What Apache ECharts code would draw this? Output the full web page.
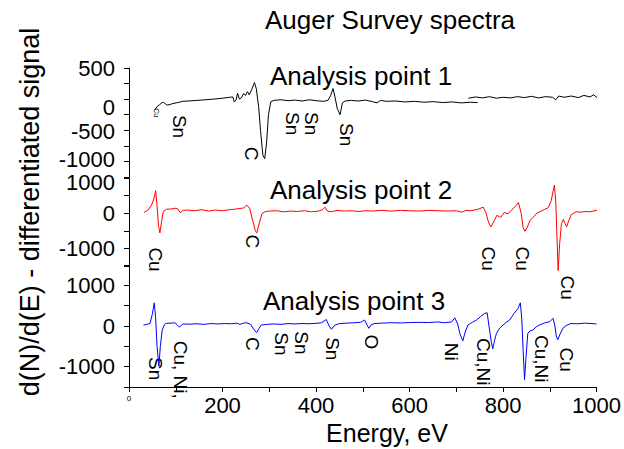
<!DOCTYPE html>
<html>
<head>
<meta charset="utf-8">
<script src="https://cdn.jsdelivr.net/npm/echarts@6/dist/echarts.min.js"></script>
<style>html,body{margin:0;padding:0;background:#fff}#c{width:624px;height:449px}</style>
</head>
<body>
<div id="c"></div>
<script>
// ---- data ----
const point1 = [
[55,-170],[60,-120],[65,-90],[70,-60],[74,-50],[78,-80],[82,-95],[88,-85],[94,-70],[104,-55],[115,-35],[130,-28],[145,-20],[160,-12],[180,0],[200,15],[215,30],[222,35],[225,-45],[229,-10],[232,95],[236,0],[240,20],[245,90],[249,60],[253,120],[257,70],[262,150],[268,265],[272,170],[277,-120],[281,-500],[286,-900],[290,-955],[294,-700],[298,-250],[303,-40],[310,-20],[325,-10],[340,-25],[355,-15],[370,-30],[385,-10],[400,-25],[415,-35],[425,-20],[431,60],[436,170],[440,40],[445,-150],[451,-250],[456,-60],[462,-30],[475,-20],[490,-30],[505,-15],[520,-40],[530,-60],[537,-20],[550,-35],[570,-30],[590,-45],[610,-35],[630,-50],[650,-40],[670,-55],[690,-45],[710,-60],[730,-50],[745,-55],[745,null],
[725,15],[740,35],[755,20],[770,40],[785,15],[800,30],[815,20],[830,40],[845,25],[860,45],[875,20],[890,40],[905,30],[912,-10],[918,50],[930,30],[945,50],[960,25],[972,60],[985,35],[993,70],[1000,25]
];
const point2 = [
[32,20],[40,80],[48,230],[53,400],[57,640],[60,200],[63,-350],[66,-560],[69,-300],[73,40],[80,110],[90,120],[100,140],[105,110],[110,10],[115,80],[125,90],[140,70],[155,100],[170,60],[185,90],[200,70],[215,100],[230,120],[245,150],[252,230],[258,130],[264,-200],[270,-500],[273,-560],[278,-300],[284,-20],[290,40],[300,60],[315,70],[330,40],[345,60],[360,50],[375,70],[390,40],[405,60],[414,100],[419,170],[424,60],[432,40],[445,80],[460,60],[475,70],[490,50],[505,70],[520,60],[540,80],[560,60],[580,80],[600,70],[620,60],[640,80],[660,70],[680,60],[700,70],[712,30],[720,80],[730,70],[745,110],[757,170],[763,0],[768,-250],[773,-390],[778,-280],[786,-60],[794,-120],[802,20],[810,-20],[818,100],[826,200],[832,305],[838,0],[842,-400],[846,-515],[851,-400],[857,-200],[865,-100],[872,10],[878,40],[887,100],[896,160],[902,350],[909,800],[912,300],[914,-500],[917,-1630],[920,-900],[924,-300],[928,-180],[932,-300],[935,-390],[940,-200],[945,-40],[949,-10],[955,40],[965,30],[975,50],[985,40],[1000,85]
];
const point3 = [
[31,24],[38,40],[45,65],[50,300],[54,570],[57,200],[60,-500],[64,-990],[67,-500],[71,-100],[76,40],[80,65],[90,70],[98,80],[103,30],[108,-30],[112,20],[116,50],[130,45],[145,55],[160,40],[175,60],[190,50],[205,60],[220,55],[230,70],[237,40],[245,70],[252,80],[260,40],[268,-100],[273,-165],[278,-60],[283,24],[295,40],[310,50],[325,40],[340,60],[355,50],[370,60],[385,55],[400,65],[412,80],[417,120],[422,160],[428,0],[433,-80],[440,20],[450,60],[465,70],[480,80],[495,90],[500,120],[504,146],[509,30],[513,-57],[518,30],[525,60],[540,70],[560,80],[580,75],[600,85],[620,90],[640,85],[660,100],[675,80],[690,100],[697,200],[703,50],[708,-200],[714,-366],[719,-150],[725,24],[734,90],[743,146],[752,230],[761,310],[766,325],[770,0],[775,-400],[778,-560],[782,-350],[786,-180],[793,-50],[800,24],[807,90],[814,146],[823,300],[832,430],[837,570],[840,200],[843,-600],[846,-1320],[849,-800],[853,-180],[858,-120],[864,-100],[871,-20],[878,24],[890,80],[900,105],[907,188],[911,0],[914,-250],[917,-340],[922,-200],[928,-57],[935,10],[945,60],[960,55],[975,70],[990,60],[1000,50]
];
// peak annotations: [text, energy, signal]
const peaks1 = [['Sn',107,-440],['C',261,-875],['Sn',350,-393],['Sn',389,-393],['Sn',464,-570]];
const peaks1small = [['Cu',58,-217]];
const peaks2 = [['Cu',57,-1316],['C',263,-800],['Cu',769,-1290],['Cu',840,-1290],['Cu',936,-2116]];
const peaks3 = [['Sn',56,-1050],['Cu, Ni,',111,-1075],['C',265,-440],['Sn',327,-440],['Sn',370,-415],['Sn',436,-560],['O',519,-390],['Ni',690,-634],['Cu,Ni',759,-880],['Cu,Ni',882,-805],['Cu',936,-830]];
const yLabels1 = [500, 0, -500, -1000];
const yLabels23 = [1000, 0, -1000];
const xLabels = [200, 400, 600, 800, 1000];
const chartTitle = 'Auger Survey spectra';
const panelTitles = ['Analysis point 1', 'Analysis point 2', 'Analysis point 3'];
const xName = 'Energy, eV';
const yName = 'd(N)/d(E) - differentiated signal';

// ---- chart ----
const FONT = '"Liberation Sans", Arial, sans-serif';
const chart = echarts.init(document.getElementById('c'), null, {renderer: 'svg'});

// shifts: {value: [padTop, padBottom]} nudges individual tick labels vertically
function yAxis(idx, min, max, interval, labels, shifts) {
  const rich = {};
  Object.keys(shifts).forEach((k, i) => {
    rich['s' + i] = {fontSize: 22, fontFamily: FONT, color: '#000', padding: [shifts[k][0], 0, shifts[k][1], 0]};
  });
  const keys = Object.keys(shifts).map(Number);
  return {
    type: 'value', gridIndex: idx, min: min, max: max, interval: interval,
    axisLine: {show: true, lineStyle: {color: '#000', width: 1}},
    axisTick: {show: true, length: 5, lineStyle: {color: '#000'}},
    splitLine: {show: false},
    axisLabel: {
      margin: 14, color: '#000', fontSize: 22, fontFamily: FONT,
      showMinLabel: true, showMaxLabel: true,
      formatter: v => {
        if (labels.indexOf(v) < 0) return '';
        const i = keys.indexOf(v);
        if (i >= 0) return '{s' + i + '|' + v + '}';
        return String(v);
      },
      rich: rich
    }
  };
}
function xAxis(idx, show) {
  return {
    type: 'value', gridIndex: idx, min: 0, max: 1000, interval: 100, show: show,
    axisLine: {show: true, onZero: false, lineStyle: {color: '#000'}},
    axisTick: {show: true, length: 5, lineStyle: {color: '#000'}},
    splitLine: {show: false},
    axisLabel: {
      margin: 7, color: '#000', fontSize: 22, fontFamily: FONT,
      formatter: v => v === 0 ? '{s|0}' : (xLabels.indexOf(v) >= 0 ? String(v) : ''),
      rich: {s: {fontSize: 8, fontFamily: FONT, color: '#000', padding: [0, 0, 12, 0]}}
    }
  };
}
function lineSeries(idx, data, color) {
  return {type: 'line', xAxisIndex: idx, yAxisIndex: idx, data: data, showSymbol: false,
    symbol: 'none', clip: false, connectNulls: false, animation: false,
    lineStyle: {color: color, width: 1}};
}
function peakSeries(idx, peaks, size) {
  return {type: 'scatter', xAxisIndex: idx, yAxisIndex: idx, symbolSize: 1, clip: false,
    animation: false, silent: true, itemStyle: {color: 'rgba(0,0,0,0)'},
    data: peaks.map(p => ({name: p[0], value: [p[1], p[2]]})),
    label: {show: true, position: 'inside', rotate: -90, formatter: '{b}',
      color: '#000', fontSize: size, fontFamily: FONT, opacity: 1}};
}

chart.setOption({
  animation: false,
  backgroundColor: '#fff',
  grid: [
    {left: 129, right: 27, top: 68, height: 109},
    {left: 129, right: 27, top: 178, height: 88},
    {left: 129, right: 27, top: 265, height: 122}
  ],
  xAxis: [xAxis(0, false), xAxis(1, false), xAxis(2, true)],
  yAxis: [
    yAxis(0, -1250, 500, 250, yLabels1, {'0': [16, 0], '-500': [2, 0], '-1000': [0, 4]}),
    yAxis(1, -1500, 1000, 500, yLabels23, {'1000': [8, 0]}),
    yAxis(2, -1500, 1500, 500, yLabels23, {})
  ],
  series: [
    lineSeries(0, point1, '#000000'),
    lineSeries(1, point2, '#ff0000'),
    lineSeries(2, point3, '#0000ff'),
    peakSeries(0, peaks1, 19),
    peakSeries(0, peaks1small, 7),
    peakSeries(1, peaks2, 19),
    peakSeries(2, peaks3, 19)
  ],
  graphic: [
    {type: 'text', x: 390, y: 20, style: {text: chartTitle, font: '26px ' + FONT, fill: '#000', textAlign: 'center', textVerticalAlign: 'middle'}},
    {type: 'text', x: 270, y: 76, style: {text: panelTitles[0], font: '26px ' + FONT, fill: '#000', textAlign: 'left', textVerticalAlign: 'middle'}},
    {type: 'text', x: 270, y: 190, style: {text: panelTitles[1], font: '26px ' + FONT, fill: '#000', textAlign: 'left', textVerticalAlign: 'middle'}},
    {type: 'text', x: 263, y: 301, style: {text: panelTitles[2], font: '26px ' + FONT, fill: '#000', textAlign: 'left', textVerticalAlign: 'middle'}},
    {type: 'text', x: 387, y: 433, style: {text: xName, font: '25px ' + FONT, fill: '#000', textAlign: 'center', textVerticalAlign: 'middle'}},
    {type: 'text', x: 30, y: 212, rotation: Math.PI / 2, style: {text: yName, font: '27px ' + FONT, fill: '#000', textAlign: 'center', textVerticalAlign: 'middle'}}
  ]
});
</script>
</body>
</html>
